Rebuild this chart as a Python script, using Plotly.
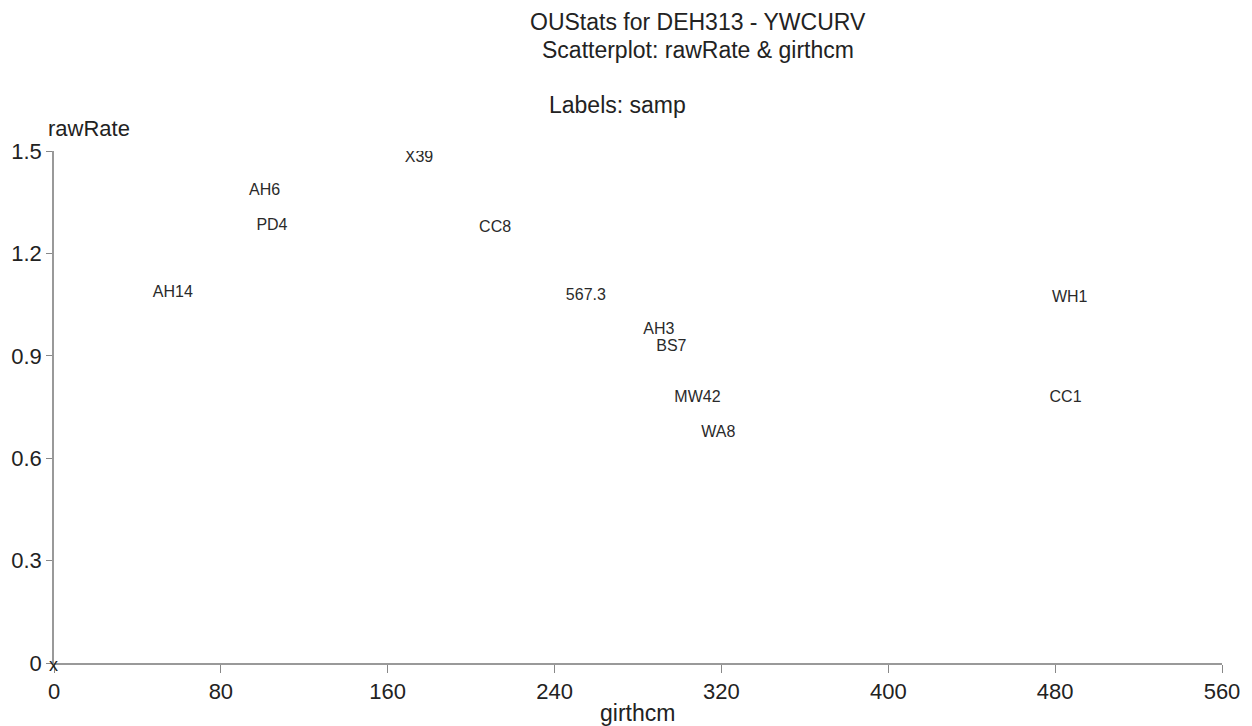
import plotly.graph_objects as go

samples = ["X39", "AH6", "PD4", "CC8", "AH14", "567.3", "AH3", "BS7", "MW42", "WA8", "WH1", "CC1"]
girthcm = [175, 101, 104.5, 211.5, 57, 255, 290, 296, 308.5, 318.5, 487, 485]
rawRate = [1.48, 1.383, 1.28, 1.275, 1.085, 1.075, 0.975, 0.925, 0.775, 0.675, 1.07, 0.775]

x_ticks = [0, 80, 160, 240, 320, 400, 480, 560]
y_ticks = [0, 0.3, 0.6, 0.9, 1.2, 1.5]
y_tick_text = ["0", "0.3", "0.6", "0.9", "1.2", "1.5"]

FONT = "Liberation Sans, Arial, sans-serif"

L, R, T, B = 54, 30, 151, 63
W, H = 1252, 726
pw, ph = W - L - R, H - T - B

def px(xp):
    return (xp - L) / pw

def py(yp):
    return (H - B - yp) / ph

fig = go.Figure()
fig.add_trace(go.Scatter(
    x=girthcm, y=rawRate, mode="text", text=samples,
    textposition="middle center",
    textfont=dict(family=FONT, size=16, color="#2a2a2a"),
    hoverinfo="text", showlegend=False,
))

texts = [
    ("OUStats for DEH313 - YWCURV", 698, 22, 23),
    ("Scatterplot: rawRate &amp; girthcm", 698, 50, 23),
    ("Labels: samp", 617, 105, 23),
    ("rawRate", 89, 128, 22),
    ("girthcm", 637, 713, 23),
    ("x", 53, 665, 18),
]
anns = [dict(text=t, x=px(xp), y=py(yp), xref="paper", yref="paper",
             xanchor="center", yanchor="middle", showarrow=False,
             font=dict(size=s, family=FONT, color="#222"))
        for t, xp, yp, s in texts]

fig.update_layout(
    width=W, height=H,
    margin=dict(l=L, r=R, t=T, b=B),
    paper_bgcolor="white", plot_bgcolor="white",
    font=dict(family=FONT, color="#222"),
    xaxis=dict(range=[0, 560], tickvals=x_ticks, showgrid=False, zeroline=False,
               showline=True, linecolor="#999", linewidth=1.5,
               ticks="outside", ticklen=8, tickcolor="#888",
               tickfont=dict(size=22, family=FONT, color="#222")),
    yaxis=dict(range=[0, 1.5], tickvals=y_ticks, ticktext=y_tick_text, showgrid=False, zeroline=False,
               showline=True, linecolor="#999", linewidth=1.5,
               ticks="outside", ticklen=6, tickcolor="#888",
               tickfont=dict(size=22, family=FONT, color="#222")),
    annotations=anns,
)

fig.write_html("out.html", config={"displayModeBar": False})

# remove default browser body margin so the figure sits at the page origin
with open("out.html", "r", encoding="utf-8") as f:
    html = f.read()
html = html.replace("<body>", '<body style="margin:0;overflow:hidden">', 1)
with open("out.html", "w", encoding="utf-8") as f:
    f.write(html)
